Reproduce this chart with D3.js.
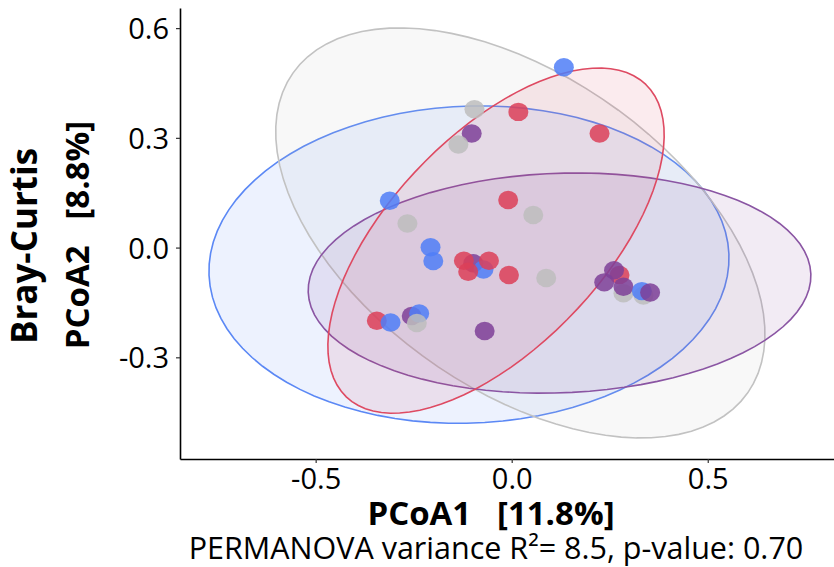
<!DOCTYPE html>
<html>
<head>
<meta charset="utf-8">
<script src="https://cdn.jsdelivr.net/npm/d3@7"></script>
<style>
  html, body { margin: 0; padding: 0; background: #fff; }
  svg { display: block; font-family: "Open Sans", "Noto Sans", sans-serif; }
</style>
</head>
<body>
<svg id="chart" width="834" height="567"></svg>
<script>
// ---- Data ----
const groupColors = { blue: "#4F7EF7", red: "#DC3F58", grey: "#BDBDBD", purple: "#7E3F98" };
const strokeColors = { blue: "#5B88F5", red: "#DE4A62", grey: "#C2C2C2", purple: "#8A55A3" };

const xTicks = [-0.5, 0.0, 0.5];
const yTicks = [-0.3, 0.0, 0.3, 0.6];

// confidence ellipses: centre, and two semi-axis vectors (data units)
const ellipseGroups = ["blue", "grey", "purple", "red"];
const ellipseCenters = [[-0.109, -0.0465], [0.022, 0.040], [0.122, -0.097], [-0.040, 0.019]];
const ellipseAxisU = [[0.663, 0.029], [0.580, -0.437], [0.641, 0.025], [0.382, 0.427]];
const ellipseAxisV = [[0.017, -0.433], [-0.230, -0.351], [0.010, -0.300], [0.195, -0.201]];

// samples in drawing order
const sampleGroup = [
  "blue", "red", "grey", "purple", "grey", "blue", "grey", "red", "grey",
  "purple", "blue", "blue", "blue", "red", "red", "red", "red",
  "red", "blue", "purple", "blue", "grey", "purple",
  "red", "purple", "purple", "grey", "grey", "purple", "blue", "purple",
  "red", "grey"
];
const sampleX = [
  0.133, 0.017, -0.095, -0.102, -0.136, -0.311, -0.266, -0.009, 0.055,
  -0.098, -0.072, -0.207, -0.200, -0.122, -0.111, -0.058, -0.007,
  -0.344, -0.309, -0.255, -0.236, -0.242, -0.069,
  0.275, 0.261, 0.236, 0.285, 0.336, 0.285, 0.332, 0.353,
  0.224, 0.088
];
const sampleY = [
  0.493, 0.371, 0.378, 0.312, 0.282, 0.128, 0.066, 0.130, 0.089,
  -0.043, -0.060, 0.001, -0.037, -0.036, -0.066, -0.036, -0.075,
  -0.200, -0.205, -0.187, -0.180, -0.206, -0.228,
  -0.075, -0.062, -0.095, -0.125, -0.131, -0.107, -0.119, -0.123,
  0.312, -0.083
];
const xDomain = [-0.846, 0.822];
const yDomain = [-0.578, 0.655];

// ---- Layout ----
const svg = d3.select("#chart");
const x = d3.scaleLinear().domain(xDomain).range([180, 834]);
const y = d3.scaleLinear().domain(yDomain).range([459, 8]);

// ellipses
const ts = d3.range(0, 360, 4).map(d => d * Math.PI / 180);
const line = d3.line().x(d => x(d[0])).y(d => y(d[1])).curve(d3.curveLinearClosed);
const eg = svg.append("g");
ellipseGroups.forEach((g, i) => {
  const c = ellipseCenters[i], u = ellipseAxisU[i], v = ellipseAxisV[i];
  const pts = ts.map(t => [c[0] + u[0] * Math.cos(t) + v[0] * Math.sin(t),
                           c[1] + u[1] * Math.cos(t) + v[1] * Math.sin(t)]);
  eg.append("path")
    .attr("d", line(pts))
    .attr("fill", groupColors[g])
    .attr("fill-opacity", 0.1)
    .attr("stroke", strokeColors[g])
    .attr("stroke-width", 1.6);
});

// points
const samples = sampleGroup.map((g, i) => ({ g, x: sampleX[i], y: sampleY[i] }));
svg.append("g").selectAll("ellipse").data(samples).join("ellipse")
  .attr("cx", d => x(d.x))
  .attr("cy", d => y(d.y))
  .attr("rx", 10)
  .attr("ry", 9.2)
  .attr("fill", d => groupColors[d.g])
  .attr("fill-opacity", 0.85);

// axes
const fmt = d => d3.format(".1f")(d).replace("−", "-");
const xAxis = d3.axisBottom(x).tickValues(xTicks).tickFormat(fmt).tickSize(4).tickSizeOuter(0);
const yAxis = d3.axisLeft(y).tickValues(yTicks).tickFormat(fmt).tickSize(4).tickSizeOuter(0);

const gx = svg.append("g").attr("transform", "translate(0,459)").call(xAxis);
const gy = svg.append("g").attr("transform", "translate(180,0)").call(yAxis);
[gx, gy].forEach(g => {
  g.attr("font-family", null).attr("font-size", null);
  g.select(".domain").attr("stroke", "#000").attr("stroke-width", 1.6);
  g.selectAll(".tick line").attr("stroke", "#333").attr("stroke-width", 1.2);
  g.selectAll(".tick text").attr("fill", "#000").attr("font-size", 29);
});
gx.selectAll(".tick text").attr("dy", null).attr("y", 30);
gy.selectAll(".tick text").attr("x", -11).attr("dy", "0.36em");

// titles
svg.append("text").attr("x", 491).attr("y", 525).attr("text-anchor", "middle")
  .attr("font-size", 33).attr("font-weight", "bold").attr("fill", "#000")
  .attr("xml:space", "preserve").text("PCoA1   [11.8%]");

svg.append("text").attr("x", 496).attr("y", 559).attr("text-anchor", "middle")
  .attr("font-size", 30.5).attr("fill", "#000")
  .text("PERMANOVA variance R²= 8.5, p-value: 0.70");

svg.append("text").attr("transform", "translate(37,246) rotate(-90)").attr("text-anchor", "middle")
  .attr("font-size", 35).attr("font-weight", "bold").attr("fill", "#000")
  .text("Bray-Curtis");
svg.append("text").attr("transform", "translate(89,235) rotate(-90)").attr("text-anchor", "middle")
  .attr("font-size", 33).attr("font-weight", "bold").attr("fill", "#000")
  .attr("xml:space", "preserve").text("PCoA2   [8.8%]");
</script>
</body>
</html>
